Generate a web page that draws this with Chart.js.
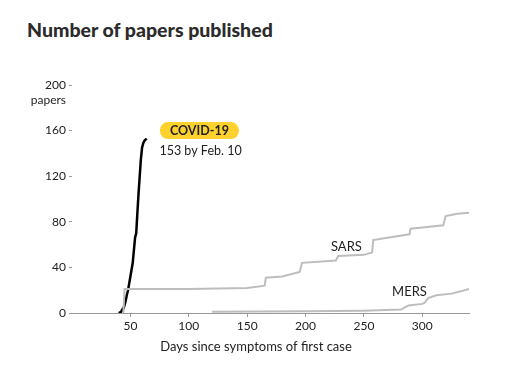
<!DOCTYPE html>
<html><head><meta charset="utf-8">
<script src="https://cdn.jsdelivr.net/npm/chart.js@4/dist/chart.umd.min.js"></script>
<style>
html,body{margin:0;padding:0;background:#fff;}
#wrap{position:relative;width:512px;height:385px;overflow:hidden;}
#title{position:absolute;left:27px;top:18px;font:900 19.5px Lato, sans-serif;color:#2b2b2b;white-space:nowrap;}
canvas{position:absolute;left:0;top:0;}
</style></head><body>
<div id="wrap"><div id="title">Number of papers published</div><canvas id="c" width="512" height="385"></canvas></div>
<script>
const covidDays   = [40, 42, 43, 44, 45, 46, 47, 48, 49, 50, 51, 52, 53, 54, 55, 56, 57, 58, 59, 60, 61, 62, 63, 64];
const covidPapers = [0, 1, 3, 4, 7, 11, 16, 20, 26, 32, 38, 44, 55, 66, 70, 88, 105, 120, 135, 145, 149, 151, 152, 153];
const sarsDays    = [44, 45, 100, 150, 165, 166, 180, 195, 197, 226, 228, 250, 257, 258, 270, 289, 290, 300, 318, 320, 330, 340];
const sarsPapers  = [0, 21, 21, 22, 24, 31, 32, 36, 44, 46, 50, 51, 53, 64, 66, 69, 74, 75, 77, 85, 87, 88];
const mersDays    = [120, 200, 250, 282, 285, 288, 300, 302, 305, 312, 325, 333, 340];
const mersPapers  = [1, 1.5, 2, 3, 5, 6.5, 8, 9, 13, 15.5, 17, 19, 21];
const xTicks = [50, 100, 150, 200, 250, 300];
const yTicks = [0, 40, 80, 120, 160, 200];
const covidLabel = 'COVID-19';
const covidNote = '153 by Feb. 10';
const sarsLabel = 'SARS';
const mersLabel = 'MERS';
const xTitle = 'Days since symptoms of first case';
const yUnit = 'papers';

const toPts = (xs, ys) => xs.map((x, i) => ({x: x, y: ys[i]}));
const FONT = 'Lato, sans-serif';

const annot = {
  id: 'annot',
  afterDraw(chart) {
    const {ctx, scales: {x, y}} = chart;
    ctx.save();
    ctx.fillStyle = '#222';
    ctx.font = '12px ' + FONT;
    ctx.textAlign = 'right';
    ctx.textBaseline = 'middle';
    ctx.fillText(yUnit, 66, y.getPixelForValue(200) + 15);

    // badge
    const bx = x.getPixelForValue(75.3), by = y.getPixelForValue(160);
    const bw = 79, bh = 17;
    ctx.fillStyle = '#fdd22f';
    ctx.beginPath();
    ctx.roundRect(bx, by - bh / 2, bw, bh, 8);
    ctx.fill();
    ctx.fillStyle = '#222';
    ctx.font = 'bold 12.5px ' + FONT;
    ctx.textAlign = 'center';
    ctx.fillText(covidLabel, bx + bw / 2, by + 0.5);
    ctx.font = '12.5px ' + FONT;
    ctx.textAlign = 'left';
    ctx.fillText(covidNote, bx - 0.5, y.getPixelForValue(142.5));

    ctx.font = '13px ' + FONT;
    ctx.textAlign = 'center';
    ctx.fillText(sarsLabel, x.getPixelForValue(235), y.getPixelForValue(58.3));
    ctx.fillText(mersLabel, x.getPixelForValue(289), y.getPixelForValue(18.7));

    ctx.fillText(xTitle, chart.width / 2, 347);
    ctx.restore();
  }
};

new Chart(document.getElementById('c'), {
  type: 'line',
  data: {
    datasets: [
      {label: 'SARS', data: toPts(sarsDays, sarsPapers), borderColor: '#bdbdbd', borderWidth: 2, pointRadius: 0, tension: 0},
      {label: 'MERS', data: toPts(mersDays, mersPapers), borderColor: '#bdbdbd', borderWidth: 2, pointRadius: 0, tension: 0},
      {label: 'COVID-19', data: toPts(covidDays, covidPapers), borderColor: '#000', borderWidth: 2.5, pointRadius: 0, tension: 0}
    ]
  },
  options: {
    responsive: false,
    animation: false,
    events: [],
    layout: {padding: {top: 85, right: 43, left: 0, bottom: 0}},
    plugins: {legend: {display: false}, tooltip: {enabled: false}, title: {display: false}},
    scales: {
      x: {
        type: 'linear', min: 0, max: 340,
        afterBuildTicks: s => { s.ticks = xTicks.map(v => ({value: v})); },
        afterFit: s => { s.height = 72; },
        grid: {drawOnChartArea: false, drawTicks: true, tickLength: 4, tickColor: '#999'},
        border: {display: true, color: '#999', width: 1},
        ticks: {color: '#222', font: {family: FONT, size: 12}, padding: 2, maxRotation: 0}
      },
      y: {
        min: 0, max: 200,
        afterBuildTicks: s => { s.ticks = yTicks.map(v => ({value: v})); },
        afterFit: s => { s.width = 72; },
        grid: {drawOnChartArea: false, drawTicks: true, tickLength: 3, tickColor: '#999'},
        border: {display: false},
        ticks: {color: '#222', font: {family: FONT, size: 12}, padding: 3}
      }
    }
  },
  plugins: [annot]
});
</script>
</body></html>
